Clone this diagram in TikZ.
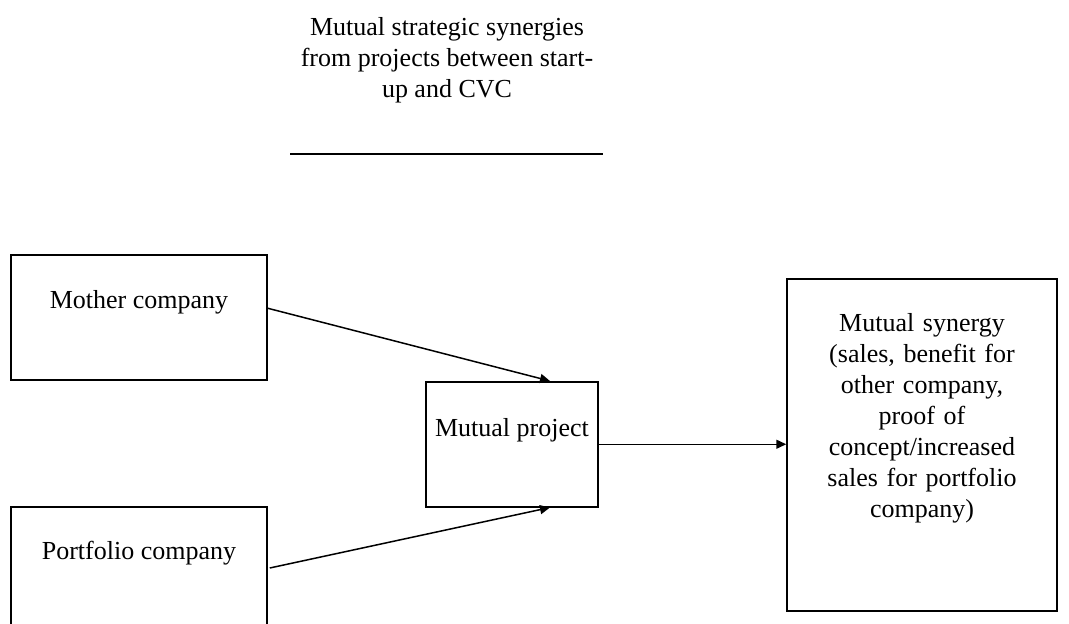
\documentclass[tikz,border=0pt]{standalone}
\usepackage{fontspec}
\setmainfont{Liberation Serif}
\usetikzlibrary{arrows.meta,
	calc,
	positioning}

\begin{document}
\begin{tikzpicture}[x=1pt,y=-1pt]
    \tikzstyle{txt}=[font=\fontsize{26}{31}\selectfont]
    \tikzstyle{box}=[draw,line width=1.5pt,txt,inner xsep=0pt,inner ysep=0pt,align=center]
    \tikzstyle{link}=[line width=1.5pt,-{Triangle[length=10pt,width=9pt]}]
    \clip (0,0) rectangle (1069,624);
    \node[txt,align=center] (title) at (447,60) {Mutual strategic synergies\\from projects between start-\\up and CVC};
    \coordinate (rule_l) at (290,154);
    \coordinate (rule_r) at (603,154);
    \draw[line width=1.5pt] (rule_l) -- (rule_r);
    \node[box,minimum width=256pt,text height=54pt,text depth=71pt] (mother) at (139,254) [anchor=north] {Mother company};
    \node[box,minimum width=256pt,text height=53pt,text depth=130pt] (portfolio) at (139,506) [anchor=north] {Portfolio company};
    \node[box,minimum width=172pt,text height=55pt,text depth=70pt] (project) at (512,381) [anchor=north] {Mutual project};
    \node[box,minimum width=270pt,text width=230pt,text height=53pt,text depth=279pt] (synergy) at (922,278) [anchor=north] {Mutual synergy\\(sales, benefit for\\other company,\\proof of\\concept/increased\\sales for portfolio\\company)};
    \draw[link] ([yshift=9pt]mother.east) -- ([xshift=38pt]project.north);
    \draw[link] ([xshift=2pt,yshift=-62pt]portfolio.north east) -- ([xshift=38pt]project.south);
    \draw[link] (project.east) -- (project.east -| synergy.west);
  \end{tikzpicture}
\end{document}
